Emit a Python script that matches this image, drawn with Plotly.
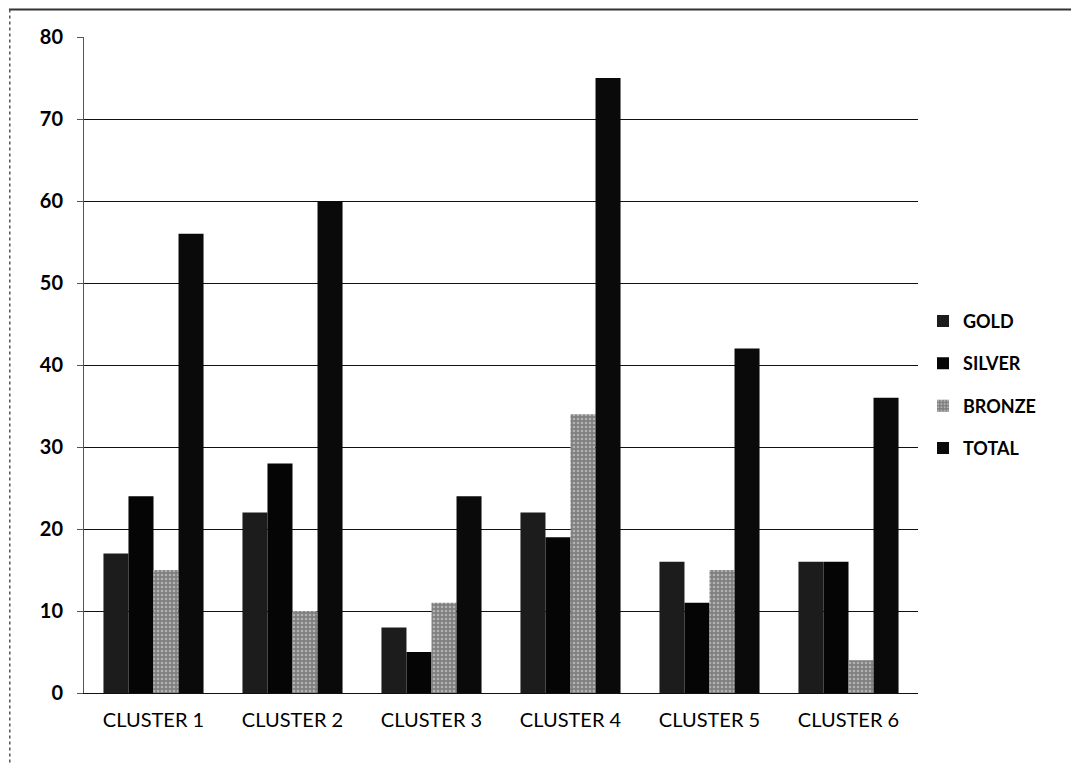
import plotly.graph_objects as go

categories = ["CLUSTER 1", "CLUSTER 2", "CLUSTER 3", "CLUSTER 4", "CLUSTER 5", "CLUSTER 6"]
gold = [17, 22, 8, 22, 16, 16]
silver = [24, 28, 5, 19, 11, 16]
bronze = [15, 10, 11, 34, 15, 4]
total = [56, 60, 24, 75, 42, 36]
y_ticks = [0, 10, 20, 30, 40, 50, 60, 70, 80]

series = [
    ("GOLD", gold, "#1c1c1c", ""),
    ("SILVER", silver, "#050505", ""),
    ("BRONZE", bronze, "#7f7f7f", "."),
    ("TOTAL", total, "#0a0a0a", ""),
]

fig = go.Figure()
for name, vals, color, pat in series:
    marker = dict(color=color, line=dict(width=0))
    if pat:
        marker["pattern"] = dict(shape=pat, fgcolor="#e6e6e6", bgcolor=color, size=4, solidity=0.35)
    fig.add_trace(go.Bar(name=name, x=categories, y=vals, marker=marker, legendgroup=name))

fig.update_layout(
    width=1063, height=756,
    paper_bgcolor="white", plot_bgcolor="white",
    margin=dict(l=76, r=153, t=29, b=71),
    barmode="group", bargap=0.28, bargroupgap=0,
    font=dict(family="Lato, Liberation Sans, sans-serif", color="black"),
    legend=dict(x=1.006, y=0.47, xanchor="left", yanchor="middle",
                font=dict(size=18, family="Lato", color="black", weight="bold"),
                traceorder="grouped", tracegroupgap=16, itemwidth=30,
                bgcolor="rgba(0,0,0,0)"),
    showlegend=True,
)
fig.update_yaxes(range=[0, 80], tickvals=y_ticks, showgrid=True, gridcolor="#111111", gridwidth=1,
                 showline=True, linecolor="#555555", linewidth=1,
                 ticks="outside", ticklen=6, tickcolor="#555555",
                 ticklabelstandoff=10,
                 tickfont=dict(size=20, family="Lato", color="black", weight="bold"),
                 zeroline=False)
fig.update_xaxes(showline=True, linecolor="#111111", linewidth=1,
                 ticks="", ticklabelstandoff=9,
                 tickfont=dict(size=20, family="Lato", color="black"),
                 showgrid=False)
fig.add_shape(type="line", xref="paper", yref="paper", x0=-0.09, x1=1.2, y0=1.042, y1=1.042,
              line=dict(color="#333333", width=2))
fig.add_shape(type="line", xref="paper", yref="paper", x0=-0.089, x1=-0.089, y0=1.042, y1=-0.12,
              line=dict(color="#555555", width=1.5, dash="dot"))

fig.write_html("out.html")
